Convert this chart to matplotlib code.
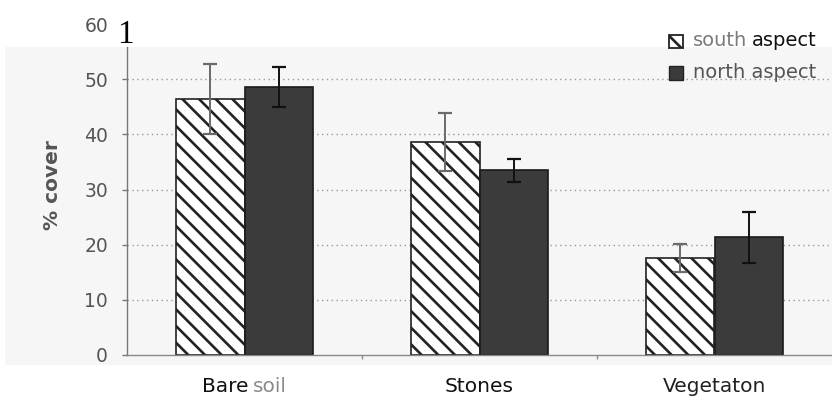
import matplotlib
matplotlib.use("Agg")
import matplotlib.pyplot as plt
import matplotlib.transforms as mtransforms
from matplotlib.patches import Rectangle
import numpy as np

# ---- data -------------------------------------------------------------
categories = ["Bare soil", "Stones", "Vegetaton"]
series_names = ["south aspect", "north aspect"]
south_cover = [46.4, 38.6, 17.6]
south_err = [6.4, 5.3, 2.6]
north_cover = [48.6, 33.5, 21.3]
north_err = [3.6, 2.1, 4.6]
y_ticks = [0, 10, 20, 30, 40, 50, 60]
y_label = "% cover"

# ---- style ------------------------------------------------------------
plt.rcParams["font.family"] = ["DejaVu Sans"]
plt.rcParams["hatch.linewidth"] = 1.9
plt.rcParams["hatch.color"] = "#111111"

W, H = 832, 397
fig = plt.figure(figsize=(W / 100, H / 100), dpi=100)

def fx(px):
    return px / W

def fy(py):
    return (H - py) / H

# faint panel behind the plot area
fig.patches.append(Rectangle((fx(5), fy(365)), 1 - fx(5), (365 - 47) / H,
                             transform=fig.transFigure, facecolor="#f6f6f6",
                             edgecolor="none", zorder=-5))

ax = fig.add_axes([fx(127), fy(355), 1 - fx(127), (355 - 24) / H])
ax.set_zorder(1)
ax.set_facecolor("none")
ax.set_xlim(-0.5, 2.5)
ax.set_ylim(0, 60)

x = np.arange(len(categories))
w = 0.29

ax.bar(x - w / 2, south_cover, w, facecolor="white", edgecolor="#222222",
       hatch="\\\\", linewidth=1.2, zorder=2)
ax.bar(x + w / 2, north_cover, w, facecolor="#3b3b3b", edgecolor="#1a1a1a",
       linewidth=1.2, zorder=2)

ax.errorbar(x - w / 2, south_cover, yerr=south_err, fmt="none", ecolor="#6a6a6a",
            elinewidth=1.4, capsize=5, capthick=1.6, zorder=3)
ax.errorbar(x + w / 2, north_cover, yerr=north_err, fmt="none", ecolor="#111111",
            elinewidth=1.4, capsize=5, capthick=1.6, zorder=3)

# axes lines
for s in ("top", "right"):
    ax.spines[s].set_visible(False)
ax.spines["left"].set_color("#777777")
ax.spines["left"].set_bounds(0, 55.8)
ax.spines["bottom"].set_color("#888888")
ax.spines["left"].set_linewidth(1.0)
ax.spines["bottom"].set_linewidth(1.0)

# y axis
ax.set_yticks(y_ticks)
ax.tick_params(axis="y", direction="out", length=3.6, width=1, color="#777777",
               labelcolor="#555555", labelsize=13.5, pad=10)
ax.yaxis.grid(True, linestyle=(0, (1, 2.5)), color="#9a9a9a", linewidth=1.0)
ax.set_axisbelow(True)
yt = ax.yaxis.get_major_ticks()
for t in (yt[0], yt[-1]):
    t.gridline.set_visible(False)
yt[-1].tick1line.set_visible(False)

# x axis: boundary ticks only, category names drawn as text below
ax.set_xticks([0.5, 1.5])
ax.set_xticklabels([])
ax.tick_params(axis="x", direction="out", length=3, width=1, color="#888888")

fig.text(fx(52), fy(185), y_label, rotation=90, ha="center", va="center",
         fontsize=14.5, fontweight="bold", color="#555555")

fig.text(fx(125), fy(35), "1", family=["Liberation Serif", "DejaVu Serif"],
         fontsize=24, color="black", ha="center", va="center", zorder=5)

# category labels (second word of the first label printed lighter)
word_colors = [["#111111", "#8a8a8a"], ["#111111"], ["#222222"]]
blend = mtransforms.blended_transform_factory(ax.transData, fig.transFigure)
groups = []
for i, (name, cols) in enumerate(zip(categories, word_colors)):
    words = name.split(" ")
    first = ax.text(i, fy(386), words[0], transform=blend, ha="left", va="center",
                    fontsize=14.5, color=cols[0], clip_on=False)
    pieces = [first]
    prev = first
    for wd, c in zip(words[1:], cols[1:]):
        prev = ax.annotate(wd, xy=(1, 0), xycoords=prev, xytext=(5, 0),
                           textcoords="offset pixels", ha="left", va="bottom",
                           fontsize=14.5, color=c, annotation_clip=False)
        pieces.append(prev)
    groups.append((i, pieces))

# legend drawn by hand
leg_y = [41, 73]
fig.patches.append(Rectangle((fx(669), fy(48)), 14 / W, 13 / H, transform=fig.transFigure,
                             facecolor="white", edgecolor="#222222", hatch="\\",
                             linewidth=1.3, zorder=5))
fig.patches.append(Rectangle((fx(669), fy(80)), 14 / W, 14 / H, transform=fig.transFigure,
                             facecolor="#3b3b3b", edgecolor="#222222",
                             linewidth=1.0, zorder=5))
s_words = series_names[0].split(" ")
t_south = fig.text(fx(693), fy(leg_y[0]), s_words[0], ha="left", va="center",
                   fontsize=14, color="#7a7a7a", zorder=5)
ax.annotate(s_words[1], xy=(1, 0), xycoords=t_south, xytext=(5, 0),
            textcoords="offset pixels", ha="left", va="bottom",
            fontsize=14, color="#111111", annotation_clip=False)
fig.text(fx(693), fy(leg_y[1]), series_names[1], ha="left", va="center",
         fontsize=14, color="#555555", zorder=5)

# centre each category label under its group
fig.canvas.draw()
r = fig.canvas.get_renderer()
for i, pieces in groups:
    bbs = [p.get_window_extent(r) for p in pieces]
    total = bbs[-1].x1 - bbs[0].x0
    off = mtransforms.ScaledTranslation(-total / 2 / fig.dpi, 0, fig.dpi_scale_trans)
    pieces[0].set_transform(blend + off)

fig.savefig("out.png", dpi=100)
